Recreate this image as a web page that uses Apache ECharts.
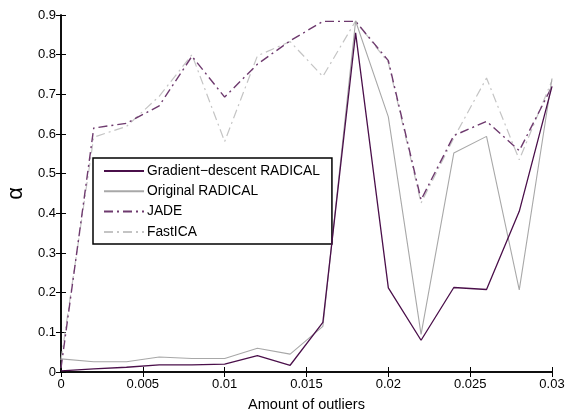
<!DOCTYPE html>
<html>
<head>
<meta charset="utf-8">
<script src="https://cdn.jsdelivr.net/npm/echarts@6/dist/echarts.min.js"></script>
<style>
    html, body { margin: 0; padding: 0; background: #fff; }
    #main { width: 568px; height: 409px; }
</style>
</head>
<body>
<div id="main"></div>
<script>
    // amount of outliers
    var outliers = [0, 0.002, 0.004, 0.006, 0.008, 0.010, 0.012, 0.014, 0.016, 0.018, 0.020, 0.022, 0.024, 0.026, 0.028, 0.030];
    var gradRadical = [0.003, 0.008, 0.012, 0.018, 0.018, 0.020, 0.041, 0.017, 0.125, 0.855, 0.212, 0.080, 0.213, 0.208, 0.405, 0.720];
    var origRadical = [0.033, 0.026, 0.026, 0.038, 0.034, 0.034, 0.060, 0.045, 0.115, 0.885, 0.643, 0.095, 0.552, 0.594, 0.207, 0.740];
    var jade = [0.010, 0.615, 0.627, 0.671, 0.796, 0.693, 0.776, 0.835, 0.884, 0.884, 0.785, 0.434, 0.596, 0.632, 0.558, 0.720];
    var fastica = [0.030, 0.592, 0.619, 0.695, 0.800, 0.581, 0.797, 0.833, 0.745, 0.885, 0.780, 0.426, 0.590, 0.741, 0.535, 0.735];
    var xTicks = [0, 0.005, 0.01, 0.015, 0.02, 0.025, 0.03];
    var yTicks = [0, 0.1, 0.2, 0.3, 0.4, 0.5, 0.6, 0.7, 0.8, 0.9];

    function pairs(ys) {
        return outliers.map(function (x, i) { return [x, ys[i]]; });
    }

    var myChart = echarts.init(document.getElementById('main'));
    var font = 'Liberation Sans, Arial, sans-serif';
    var boxAxis = {
        axisLine: { show: true, lineStyle: { color: '#000', width: 1.5 } },
        axisTick: { show: true, inside: true, length: 5, lineStyle: { color: '#000' } },
        splitLine: { show: false }
    };
    option = {
        animation: false,
        grid: { left: 61, right: 16, top: 15, bottom: 37, outerBoundsMode: 'none', containLabel: false },
        legend: {
            orient: 'vertical',
            left: 93, top: 158,
            backgroundColor: '#fff',
            borderColor: '#000',
            borderWidth: 1.5,
            borderRadius: 0,
            padding: [6, 12, 5, 10],
            itemWidth: 40,
            itemHeight: 10,
            itemGap: 6.3,
            itemStyle: { opacity: 0 },
            textStyle: { fontFamily: font, fontSize: 13.8, color: '#000', padding: [0, 0, 0, -2] },
            data: ['Gradient−descent RADICAL', 'Original RADICAL', 'JADE', 'FastICA']
        },
        xAxis: [
            Object.assign({
                type: 'value', min: 0, max: 0.03, interval: 0.005, position: 'bottom',
                name: 'Amount of outliers', nameLocation: 'middle', nameGap: 25,
                nameTextStyle: { fontFamily: font, fontSize: 14.5, color: '#000' },
                axisLabel: {
                    fontFamily: font, fontSize: 13, color: '#000', margin: 6,
                    formatter: function (v) { return xTicks.indexOf(+v.toFixed(3)) >= 0 ? String(+v.toFixed(3)) : ''; }
                }
            }, boxAxis),
            Object.assign({
                type: 'value', min: 0, max: 0.03, interval: 0.005, position: 'top',
                axisLabel: { show: false }
            }, boxAxis)
        ],
        yAxis: [
            Object.assign({
                type: 'value', min: 0, max: 0.9, interval: 0.1, position: 'left',
                name: 'α', nameLocation: 'middle', nameGap: 33,
                nameTextStyle: { fontFamily: font, fontSize: 22, color: '#000' },
                axisLabel: {
                    fontFamily: font, fontSize: 13, color: '#000', margin: 5,
                    formatter: function (v) { return String(+v.toFixed(1)); }
                }
            }, boxAxis),
            Object.assign({
                type: 'value', min: 0, max: 0.9, interval: 0.1, position: 'right',
                axisLabel: { show: false }
            }, boxAxis)
        ],
        series: [
            {
                name: 'FastICA', type: 'line', symbol: 'none', z: 1,
                data: pairs(fastica),
                itemStyle: { color: '#c4c4c4' },
                lineStyle: { color: '#c4c4c4', width: 1.2, type: [9, 4, 2, 4] }
            },
            {
                name: 'JADE', type: 'line', symbol: 'none', z: 2,
                data: pairs(jade),
                itemStyle: { color: '#6e3a6e' },
                lineStyle: { color: '#6e3a6e', width: 1.4, type: [9, 4, 2, 4] }
            },
            {
                name: 'Original RADICAL', type: 'line', symbol: 'none', z: 3,
                data: pairs(origRadical),
                itemStyle: { color: '#a8a8a8' },
                lineStyle: { color: '#a8a8a8', width: 1.1 }
            },
            {
                name: 'Gradient−descent RADICAL', type: 'line', symbol: 'none', z: 4,
                data: pairs(gradRadical),
                itemStyle: { color: '#4a0f4a' },
                lineStyle: { color: '#4a0f4a', width: 1.3 }
            }
        ]
    };
    myChart.setOption(option);
</script>
</body>
</html>
